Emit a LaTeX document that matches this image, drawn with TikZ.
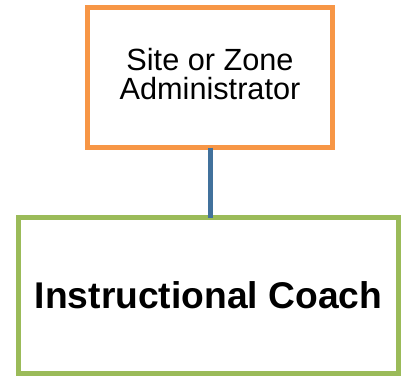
\documentclass[tikz,border=0pt]{standalone}
\usepackage{fontspec}
\setmainfont{Liberation Sans}
\usepackage{xcolor}
\usetikzlibrary{positioning}
\definecolor{boxorange}{HTML}{F79646}
\definecolor{boxgreen}{HTML}{9BBB59}
\definecolor{linkblue}{HTML}{41719C}

\begin{document}
\begin{tikzpicture}[x=0.75pt,y=-0.75pt,
  sitebox/.style={draw=boxorange, line width=3.75pt, minimum width=183.75pt, minimum height=105pt, inner sep=0pt, outer sep=0pt},
  coachbox/.style={draw=boxgreen, line width=3.75pt, minimum width=285pt, minimum height=117pt, inner sep=0pt, outer sep=0pt}]
\useasboundingbox (0,0) rectangle (401,376);
% administrator
\node[sitebox] (site) at (210,77.5) {};
\node[align=center, font=\fontsize{23}{22}\selectfont] (sitetext) at ([yshift=2.5pt]site.center) {Site or Zone\\Administrator};
% coach
\node[coachbox, below=52.5pt of site, xshift=-1.125pt, font=\bfseries\fontsize{27.9}{32}\selectfont] (coach) {Instructional Coach};
% link
\draw[linkblue, line width=3.75pt] (site.south) -- (site.south |- coach.north);
\end{tikzpicture}
\end{document}
